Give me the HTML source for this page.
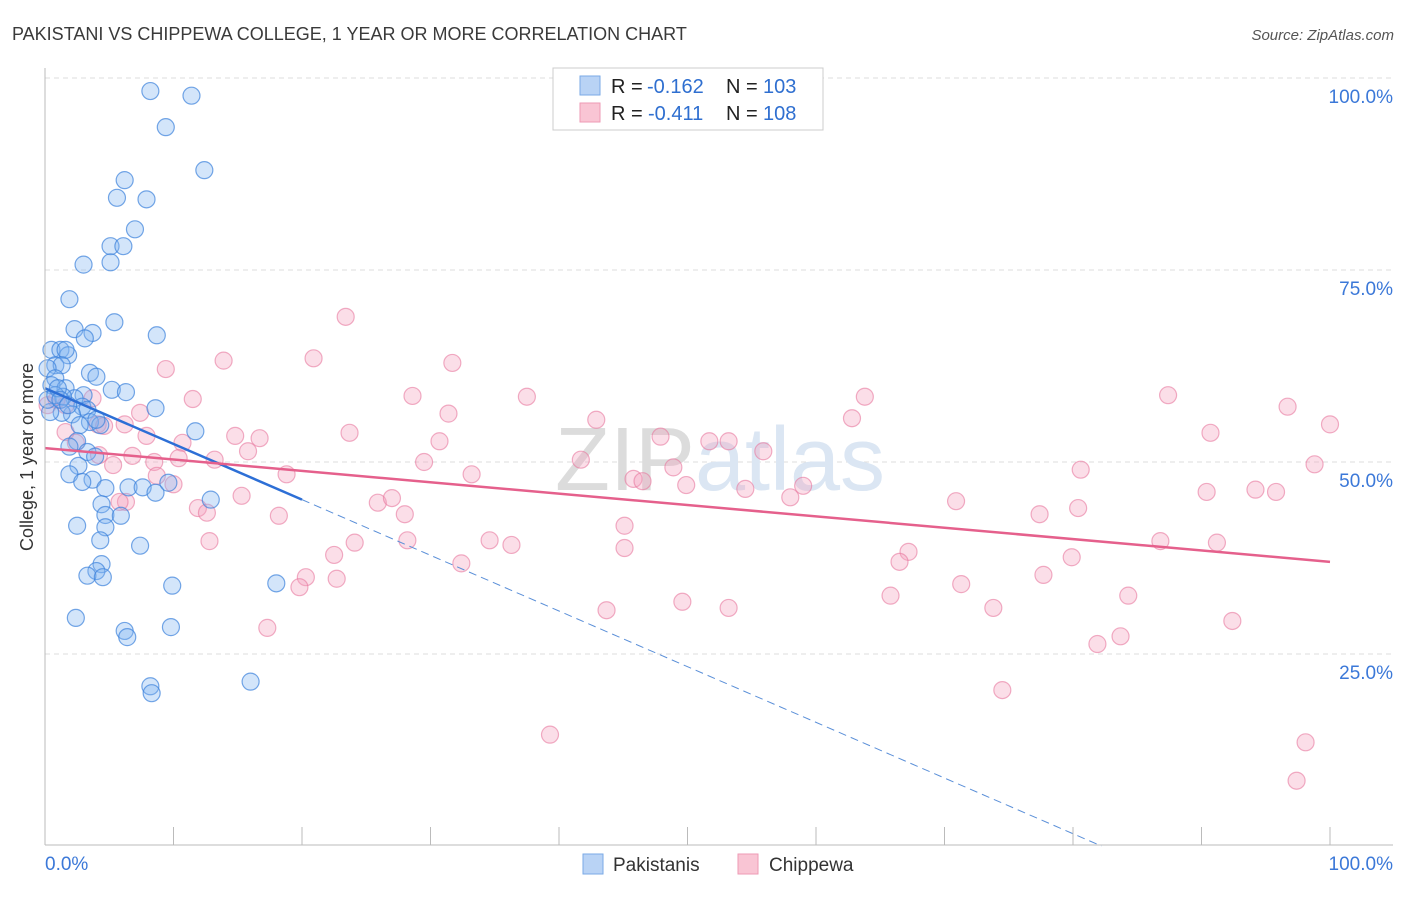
<!DOCTYPE html>
<html><head><meta charset="utf-8"><style>
body{margin:0;background:#fff;font-family:"Liberation Sans",sans-serif}
svg text{font-family:"Liberation Sans",sans-serif}
</style></head><body>
<svg id="chart" width="1406" height="892" xmlns="http://www.w3.org/2000/svg">
<text x="12" y="40" font-size="18" fill="#3a3a3a">PAKISTANI VS CHIPPEWA COLLEGE, 1 YEAR OR MORE CORRELATION CHART</text>
<text x="1394" y="40" font-size="15" fill="#555" text-anchor="end" font-style="italic">Source: ZipAtlas.com</text>
<g id="grid"></g>
<text x="720" y="490" font-size="90" fill="#e6e6e6" text-anchor="middle" font-family="Liberation Serif"><tspan fill="#dcdcdc">ZIP</tspan><tspan fill="#dbe6f3" font-family="Liberation Sans">atlas</tspan></text>
<g id="pts"></g>
<g id="trends"></g>
<g id="axes"></g>
<text transform="translate(33,457) rotate(-90)" font-size="18" fill="#333" text-anchor="middle">College, 1 year or more</text>
<g>
<rect x="553" y="68" width="270" height="62" fill="#fff" stroke="#ccc"/>
<rect x="580" y="76" width="20" height="19" fill="#b9d3f5" stroke="#7aa9e6"/>
<rect x="580" y="103" width="20" height="19" fill="#f9c5d4" stroke="#ee9ab4"/>
<text x="611" y="93" font-size="20" fill="#222">R =</text>
<text x="647" y="93" font-size="20" fill="#2f6fd0">-0.162</text>
<text x="726" y="93" font-size="20" fill="#222">N =</text>
<text x="763" y="93" font-size="20" fill="#2f6fd0">103</text>
<text x="611" y="120" font-size="20" fill="#222">R =</text>
<text x="648" y="120" font-size="20" fill="#2f6fd0">-0.411</text>
<text x="726" y="120" font-size="20" fill="#222">N =</text>
<text x="763" y="120" font-size="20" fill="#2f6fd0">108</text>
</g>
<g>
<rect x="583" y="854" width="20" height="20" fill="#b9d3f5" stroke="#7aa9e6"/>
<text x="613" y="871" font-size="19" fill="#333">Pakistanis</text>
<rect x="738" y="854" width="20" height="20" fill="#f9c5d4" stroke="#ee9ab4"/>
<text x="769" y="871" font-size="19" fill="#333">Chippewa</text>
</g>
</svg>
<script>
const blueX=[8.2,11.4,9.4,12.4,6.2,5.6,7.9,7.0,5.1,6.1,5.1,3.0,1.9,5.4,8.7,2.3,3.7,3.1,0.5,1.2,1.8,1.6,0.8,1.3,0.2,3.5,4.0,0.8,0.5,1.6,5.2,6.3,3.0,2.3,1.4,2.9,3.3,8.6,2.1,1.3,3.5,4.3,4.0,2.7,2.5,1.9,3.3,3.9,2.6,1.9,3.7,2.9,11.7,4.7,6.5,7.6,8.6,9.6,12.9,4.4,4.7,5.9,4.7,4.3,7.4,2.5,4.4,4.0,3.3,4.5,9.9,18.0,2.4,9.8,6.2,6.4,8.2,8.3,16.0,0.4,0.2,0.8,1.0,1.2,1.8];
const blueY=[98.3,97.7,93.6,88.0,86.7,84.4,84.2,80.3,78.1,78.1,76.0,75.7,71.2,68.2,66.5,67.3,66.8,66.1,64.6,64.6,63.9,64.6,62.6,62.6,62.2,61.6,61.1,60.9,60.0,59.6,59.4,59.1,58.7,58.3,58.5,57.2,56.8,57.0,56.2,56.4,55.2,54.8,55.5,54.8,52.7,52.0,51.3,50.7,49.5,48.4,47.7,47.4,54.0,46.6,46.7,46.7,46.0,47.3,45.1,44.5,43.1,43.0,41.5,39.8,39.1,41.7,36.7,35.8,35.2,35.0,33.9,34.2,29.7,28.5,28.0,27.2,20.8,19.9,21.4,56.5,58.1,58.7,59.6,58.1,57.4];
const pinkX=[23.4,31.7,20.9,13.9,9.4,11.5,7.4,28.6,37.5,31.4,42.9,30.7,23.7,16.7,14.8,15.8,10.7,7.9,4.1,4.6,1.6,2.4,4.2,5.3,6.8,8.5,8.7,10.4,10.0,13.2,18.8,29.5,33.2,41.7,47.9,51.7,53.2,48.9,45.8,46.5,49.9,55.9,54.5,59.0,58.0,62.8,63.8,87.4,96.7,100.0,90.7,98.8,80.6,90.4,94.2,95.8,70.9,77.4,80.4,15.3,11.9,12.6,18.2,25.9,27.0,28.0,6.3,5.8,12.8,28.2,24.1,34.6,36.3,45.1,45.1,67.2,66.5,79.9,86.8,91.2,77.7,71.3,65.8,84.3,20.3,22.7,22.5,19.8,32.4,43.7,49.6,53.2,73.8,92.4,17.3,83.7,81.9,74.5,39.3,98.1,97.4,1.6,0.9,0.2,6.2,3.7];
const pinkY=[68.9,62.9,63.5,63.2,62.1,58.2,56.4,58.6,58.5,56.3,55.5,52.7,53.8,53.1,53.4,51.4,52.5,53.4,54.9,54.7,53.9,52.5,50.9,49.6,50.8,50.0,48.2,50.5,47.1,50.3,48.4,50.0,48.4,50.3,53.3,52.7,52.7,49.3,47.8,47.5,47.0,51.4,46.5,46.9,45.4,55.7,58.5,58.7,57.2,54.9,53.8,49.7,49.0,46.1,46.4,46.1,44.9,43.2,44.0,45.6,44.0,43.4,43.0,44.7,45.3,43.2,44.8,44.8,39.7,39.8,39.5,39.8,39.2,38.8,41.7,38.3,37.0,37.6,39.7,39.5,35.3,34.1,32.6,32.6,35.0,34.8,37.9,33.7,36.8,30.7,31.8,31.0,31.0,29.3,28.4,27.3,26.3,20.3,14.5,13.5,8.5,57.4,58.1,57.4,54.9,58.3];
const blueTrend=[59.6,-0.725];
const pinkTrend=[51.8,-0.148];
const yTicks=[25,50,75,100];
const yTickLabels=["25.0%","50.0%","75.0%","100.0%"];
const xTickVals=[0,10,20,30,40,50,60,70,80,90,100];
const NS="http://www.w3.org/2000/svg";
const X=v=>45+v*12.85, Y=v=>846-v*7.68;
function mk(tag,attrs,parent){const e=document.createElementNS(NS,tag);for(const k in attrs)e.setAttribute(k,attrs[k]);parent.appendChild(e);return e;}
const grid=document.getElementById('grid'),axes=document.getElementById('axes'),pts=document.getElementById('pts'),tr=document.getElementById('trends');
yTicks.forEach((t,i)=>{
 const l=mk('line',{x1:45,x2:1393,y1:Y(t),y2:Y(t),stroke:'#ddd','stroke-dasharray':'5,4','stroke-width':1},grid);
 
 
 const tx=mk('text',{x:1393,y:Y(t)+25,'font-size':19,fill:'#3b78d8','text-anchor':'end'},axes);
 tx.textContent=yTickLabels[i];
 
 
});
const ax=mk('line',{x1:45,x2:1393,y1:845,y2:845,stroke:'#bbb'},axes);


const ay=mk('line',{x1:45,x2:45,y1:68,y2:845,stroke:'#bbb'},axes);


xTickVals.forEach(v=>{
 const t=mk('line',{x1:X(v),x2:X(v),y1:827,y2:845,stroke:'#bbb'},axes);
 
 
});
[[0,'0.0%','start',45],[100,'100.0%','end',1393]].forEach(a=>{
 const t=mk('text',{x:a[3],y:870,'font-size':19,fill:'#3b78d8','text-anchor':a[2]},axes);
 t.textContent=a[1];
 
 
});
pinkX.forEach((x,i)=>{
 const c=mk('circle',{cx:X(x),cy:Y(pinkY[i]),r:8.5,fill:'rgba(244,160,188,0.35)',stroke:'rgba(232,120,158,0.6)','stroke-width':1.2},pts);
 
 
});
blueX.forEach((x,i)=>{
 const c=mk('circle',{cx:X(x),cy:Y(blueY[i]),r:8.5,fill:'rgba(130,180,240,0.35)',stroke:'rgba(60,130,220,0.7)','stroke-width':1.2},pts);
 
 
});
const bEnd=-blueTrend[0]/blueTrend[1];
const b1=mk('line',{x1:X(0),y1:Y(blueTrend[0]),x2:X(20),y2:Y(blueTrend[0]+blueTrend[1]*20),stroke:'#2d6fd6','stroke-width':2.5},tr);


const b2=mk('line',{x1:X(20),y1:Y(blueTrend[0]+blueTrend[1]*20),x2:X(bEnd),y2:Y(0),stroke:'#5a8fd8','stroke-width':1,'stroke-dasharray':'8,5'},tr);


const p1=mk('line',{x1:X(0),y1:Y(pinkTrend[0]),x2:X(100),y2:Y(pinkTrend[0]+pinkTrend[1]*100),stroke:'#e5608c','stroke-width':2.5},tr);


</script>
</body></html>
